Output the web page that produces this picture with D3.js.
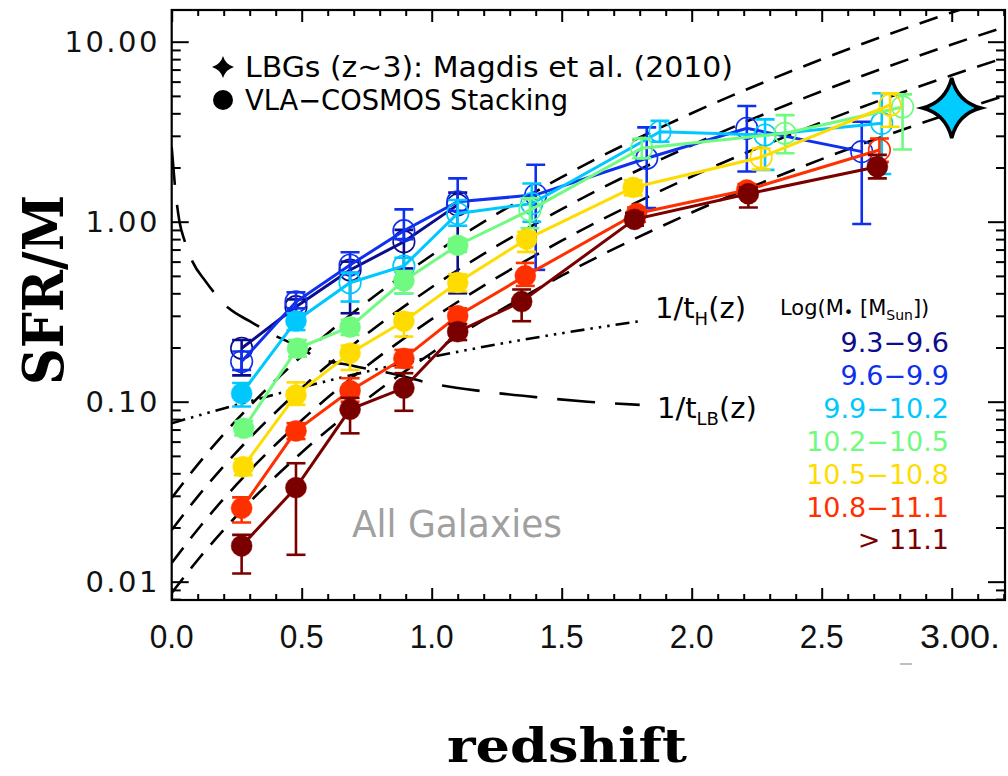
<!DOCTYPE html>
<html><head><meta charset="utf-8">
<script src="https://cdn.jsdelivr.net/npm/d3@7"></script>
<style>body{margin:0;background:#fff}</style>
</head><body>
<svg id="c" width="1008" height="776"></svg>
<script>
// ---------------- data ----------------
const massBins = ["9.3\u22129.6","9.6\u22129.9","9.9\u221210.2","10.2\u221210.5","10.5\u221210.8","10.8\u221211.1","> 11.1"];
const binColors = ["#0c0c8c","#1030f0","#00c8ff","#70fa80","#ffdc00","#ff3000","#7a0000"];

const zNavy = [0.269, 0.478, 0.686, 0.893, 1.10];
const vNavy = [0.198, 0.337, 0.539, 0.774, 1.24];
const loNavy = [0.14, 0.30, 0.31, 0.55, 0.40];
const hiNavy = [0.22, 0.37, 0.60, 0.90, 1.45];

const zBlue = [0.269, 0.478, 0.686, 0.893, 1.10, 1.40, 1.827, 2.212, 2.654];
const vBlue = [0.167, 0.359, 0.574, 0.891, 1.29, 1.41, 2.25, 3.30, 2.45];
const loBlue = [0.15, 0.33, 0.52, 0.80, 1.15, 0.54, 1.19, 1.90, 0.97];
const hiBlue = [0.19, 0.405, 0.676, 1.17, 1.74, 2.07, 3.34, 4.39, 3.59];

const zCyan = [0.269, 0.478, 0.686, 0.893, 1.10, 1.385, 1.878, 2.282, 2.731];
const vCyan = [0.111, 0.281, 0.458, 0.567, 1.11, 1.26, 3.16, 3.03, 3.52];
const loCyan = [0.094, 0.25, 0.36, 0.40, 0.95, 1.0, 2.78, 1.94, 1.84];
const hiCyan = [0.127, 0.31, 0.52, 0.63, 1.32, 1.63, 3.64, 3.7, 5.17];

const zGreen = [0.277, 0.484, 0.686, 0.893, 1.10, 1.378, 1.808, 2.359, 2.811];
const vGreen = [0.0711, 0.198, 0.26, 0.47, 0.74, 1.16, 2.56, 3.10, 4.34];
const loGreen = [0.065, 0.178, 0.235, 0.40, 0.68, 0.92, 2.25, 2.4, 2.52];
const hiGreen = [0.078, 0.22, 0.285, 0.53, 0.80, 1.35, 2.9, 3.91, 5.1];

const zYellow = [0.275, 0.478, 0.686, 0.893, 1.10, 1.365, 1.775, 2.267, 2.763];
const vYellow = [0.0435, 0.109, 0.186, 0.28, 0.46, 0.80, 1.55, 2.28, 4.45];
const loYellow = [0.039, 0.096, 0.15, 0.23, 0.41, 0.68, 1.4, 1.95, 3.37];
const hiYellow = [0.048, 0.128, 0.205, 0.31, 0.51, 0.88, 1.7, 2.55, 5.17];

const zRed = [0.269, 0.478, 0.686, 0.893, 1.10, 1.36, 1.788, 2.212, 2.722];
const vRed = [0.0256, 0.0688, 0.115, 0.174, 0.30, 0.50, 1.11, 1.50, 2.50];
const loRed = [0.0213, 0.062, 0.10, 0.155, 0.27, 0.44, 1.0, 1.38, 2.15];
const hiRed = [0.0294, 0.076, 0.135, 0.194, 0.33, 0.59, 1.2, 1.62, 2.9];

const zDark = [0.269, 0.478, 0.686, 0.893, 1.10, 1.346, 1.78, 2.218, 2.714];
const vDark = [0.0158, 0.0333, 0.0907, 0.119, 0.245, 0.36, 1.03, 1.43, 2.02];
const loDark = [0.0111, 0.0141, 0.0667, 0.089, 0.22, 0.28, 0.95, 1.2, 1.74];
const hiDark = [0.0182, 0.0455, 0.105, 0.144, 0.27, 0.42, 1.12, 1.55, 2.35];

// number of leading filled markers per series (rest open)
const filledCount = [0, 0, 2, 5, 7, 8, 9];

// LBG point (Magdis et al. 2010)
const lbgZ = [3.0];
const lbgV = [4.28];

// dashed fit lines
const fitZ = [0, 0.1, 0.25, 0.5, 0.75, 1.0, 1.5, 2.0, 2.5, 3.0, 3.21];
const fit1 = [0.00866, 0.0132, 0.02325, 0.0522, 0.1032, 0.1865, 0.501, 1.124, 2.227, 4.022, 5.045];
const fit2 = [0.0127, 0.0195, 0.0347, 0.0788, 0.1576, 0.2873, 0.784, 1.782, 3.567, 6.508, 8.193];
const fit3 = [0.01938, 0.0297, 0.0526, 0.1192, 0.2375, 0.4322, 1.174, 2.658, 5.306, 9.652, 12.14];
const fit4 = [0.02917, 0.0447, 0.0792, 0.1794, 0.3577, 0.651, 1.768, 4.003, 7.99, 14.54, 18.27];

// 1/t_LB(z) and 1/t_H(z)
const tLBz = [0.0, 0.015, 0.03, 0.05, 0.08, 0.13, 0.22, 0.3, 0.4, 0.5, 0.55, 0.7, 0.85, 1.0, 1.2, 1.4, 1.6, 1.8];
const tLBv = [2.6, 1.45, 1.0, 0.78, 0.6, 0.467, 0.33, 0.28, 0.232, 0.198, 0.178, 0.158, 0.143, 0.126, 0.114, 0.106, 0.100, 0.096];
const tHz = [0, 0.25, 0.5, 0.75, 1.0, 1.25, 1.5, 1.8];
const tHv = [0.076, 0.096, 0.12, 0.147, 0.177, 0.208, 0.24, 0.28];

const xTickVals = [0, 0.5, 1.0, 1.5, 2.0, 2.5, 3.0];
const xTickLabels = ["0.0","0.5","1.0","1.5","2.0","2.5","3.00."];
const yTickVals = [0.01, 0.1, 1, 10];
const yTickLabels = ["0.01","0.10","1.00","10.00"];

// ---------------- drawing ----------------
const svg = d3.select("#c");
svg.append("rect").attr("width",1008).attr("height",776).attr("fill","#fff");

const L = 171.7, R = 1005, T = 10, B = 600;
const x = d3.scaleLinear().domain([0, 3.205]).range([L, R]);
const y = d3.scaleLog().domain([0.00791, 15.0]).range([B, T]);

svg.append("defs").append("clipPath").attr("id","pc")
  .append("rect").attr("x",L).attr("y",T).attr("width",R-L).attr("height",B-T);

const plot = svg.append("g").attr("clip-path","url(#pc)");
const line = d3.line().x(d=>x(d[0])).y(d=>y(d[1])).curve(d3.curveMonotoneX);

// model curves
[fit1, fit2, fit3, fit4].forEach(f=>{
  plot.append("path").attr("d", line(fitZ.map((z,i)=>[z,f[i]])))
    .attr("fill","none").attr("stroke","#000").attr("stroke-width",2.6)
    .attr("stroke-dasharray","19,12");
});
plot.append("path").attr("d", line(tLBz.map((z,i)=>[z,tLBv[i]])))
  .attr("fill","none").attr("stroke","#000").attr("stroke-width",2.6)
  .attr("stroke-dasharray","38,20");
plot.append("path").attr("d", line(tHz.map((z,i)=>[z,tHv[i]])))
  .attr("fill","none").attr("stroke","#000").attr("stroke-width",2.6)
  .attr("stroke-dasharray","14,6,2.5,6,2.5,6,2.5,6");

// data series
const seriesZ = [zNavy,zBlue,zCyan,zGreen,zYellow,zRed,zDark];
const seriesV = [vNavy,vBlue,vCyan,vGreen,vYellow,vRed,vDark];
const seriesLo = [loNavy,loBlue,loCyan,loGreen,loYellow,loRed,loDark];
const seriesHi = [hiNavy,hiBlue,hiCyan,hiGreen,hiYellow,hiRed,hiDark];

const straight = d3.line().x(d=>x(d.z)).y(d=>y(d.v));
seriesZ.forEach((zs, s)=>{
  const col = binColors[s];
  const pts = zs.map((z,i)=>({z, v:seriesV[s][i], lo:seriesLo[s][i], hi:seriesHi[s][i], filled: i < filledCount[s]}));
  const g = plot.append("g");
  g.append("path").attr("d", straight(pts)).attr("fill","none")
    .attr("stroke", col).attr("stroke-width", 3);
  const eb = g.selectAll(".eb").data(pts).enter().append("g");
  eb.append("line").attr("x1",d=>x(d.z)).attr("x2",d=>x(d.z))
    .attr("y1",d=>y(d.lo)).attr("y2",d=>y(d.hi)).attr("stroke",col).attr("stroke-width",2.6);
  eb.append("line").attr("x1",d=>x(d.z)-9.5).attr("x2",d=>x(d.z)+9.5)
    .attr("y1",d=>y(d.lo)).attr("y2",d=>y(d.lo)).attr("stroke",col).attr("stroke-width",2.6);
  eb.append("line").attr("x1",d=>x(d.z)-9.5).attr("x2",d=>x(d.z)+9.5)
    .attr("y1",d=>y(d.hi)).attr("y2",d=>y(d.hi)).attr("stroke",col).attr("stroke-width",2.6);
  g.selectAll(".pt").data(pts).enter().append("circle")
    .attr("cx",d=>x(d.z)).attr("cy",d=>y(d.v))
    .attr("r", d=>d.filled ? 10.5 : 10.8)
    .attr("fill", d=>d.filled ? col : "none")
    .attr("stroke", col).attr("stroke-width", d=>d.filled ? 0.5 : 1.6);
});

// star symbol
function starPath(cx, cy, rx, ry, c){
  return `M${cx},${cy-ry} Q${cx+c},${cy-c} ${cx+rx},${cy} Q${cx+c},${cy+c} ${cx},${cy+ry} Q${cx-c},${cy+c} ${cx-rx},${cy} Q${cx-c},${cy-c} ${cx},${cy-ry} Z`;
}
lbgZ.forEach((z,i)=>{
  plot.append("path").attr("d", starPath(x(z), y(lbgV[i]), 29, 30, 6))
    .attr("fill","#00ccff").attr("stroke","#000").attr("stroke-width",3.5).attr("stroke-linejoin","miter");
});

// axes ticks
const xMajor = d3.range(0, 3.21, 0.5);
const xMinor = d3.range(0, 3.21, 0.1).filter(v=>Math.abs(v*2-Math.round(v*2))>1e-6);
const axG = svg.append("g");
axG.append("g").attr("transform",`translate(0,${B})`).call(d3.axisBottom(x).tickValues(xMajor).tickSize(-12).tickFormat(""));
axG.append("g").attr("transform",`translate(0,${B})`).call(d3.axisBottom(x).tickValues(xMinor).tickSize(-6).tickFormat(""));
axG.append("g").attr("transform",`translate(0,${T})`).call(d3.axisTop(x).tickValues(xMajor).tickSize(-12).tickFormat(""));
axG.append("g").attr("transform",`translate(0,${T})`).call(d3.axisTop(x).tickValues(xMinor).tickSize(-6).tickFormat(""));
const yMinor = [];
[0.001,0.01,0.1,1].forEach(dec=>{ for(let k=2;k<=9;k++){ const v=k*dec; if(v>=0.00791 && v<=15) yMinor.push(v);} });
axG.append("g").attr("transform",`translate(${L},0)`).call(d3.axisLeft(y).tickValues(yTickVals).tickSize(-17).tickFormat(""));
axG.append("g").attr("transform",`translate(${L},0)`).call(d3.axisLeft(y).tickValues(yMinor).tickSize(-9).tickFormat(""));
axG.append("g").attr("transform",`translate(${R},0)`).call(d3.axisRight(y).tickValues(yTickVals).tickSize(-17).tickFormat(""));
axG.append("g").attr("transform",`translate(${R},0)`).call(d3.axisRight(y).tickValues(yMinor).tickSize(-9).tickFormat(""));
axG.selectAll(".domain").remove();
axG.selectAll(".tick line").attr("stroke","#000").attr("stroke-width",2);

// frame
svg.append("rect").attr("x",L).attr("y",T).attr("width",R-L).attr("height",B-T)
  .attr("fill","none").attr("stroke","#000").attr("stroke-width",2.2);

// tick labels
xTickVals.forEach((v,i)=>{
  const last = i===xTickVals.length-1;
  svg.append("text").attr("x", last ? 920 : x(v)).attr("y",648)
    .attr("text-anchor", last ? "start" : "middle")
    .attr("font-family","'Liberation Sans',sans-serif")
    .attr("font-size",34).attr("fill","#111")
    .attr("textLength", last ? 80 : 44).attr("lengthAdjust","spacingAndGlyphs")
    .text(xTickLabels[i]);
});
yTickVals.forEach((v,i)=>{
  svg.append("text").attr("x",160).attr("y",y(v)+10.5).attr("text-anchor","end")
    .attr("font-family","'DejaVu Sans',sans-serif").attr("font-size",29)
    .attr("letter-spacing","2.5").attr("fill","#111").text(yTickLabels[i]);
});
svg.append("line").attr("x1",900).attr("x2",912).attr("y1",664).attr("y2",664)
  .attr("stroke","#aaa").attr("stroke-width",1.5);

// axis titles
svg.append("text").attr("x",567).attr("y",762).attr("text-anchor","middle")
  .attr("font-family","'DejaVu Serif',serif").attr("font-weight","bold").attr("font-size",46)
  .attr("textLength",240).attr("lengthAdjust","spacingAndGlyphs").attr("fill","#000").text("redshift");
svg.append("text").attr("transform","translate(63,290) rotate(-90)").attr("text-anchor","middle")
  .attr("font-family","'DejaVu Serif',serif").attr("font-weight","bold").attr("font-size",56)
  .attr("textLength",190).attr("lengthAdjust","spacingAndGlyphs").attr("fill","#000").text("SFR/M");

// top-left legend
const sans = "'DejaVu Sans',sans-serif";
svg.append("path").attr("d", starPath(223, 67, 11, 11, 2.5)).attr("fill","#000");
svg.append("text").attr("x",245).attr("y",77).attr("font-family",sans).attr("font-size",28)
  .attr("textLength",488).attr("lengthAdjust","spacingAndGlyphs").text("LBGs (z~3): Magdis et al. (2010)");
svg.append("circle").attr("cx",223).attr("cy",100).attr("r",10).attr("fill","#000");
svg.append("text").attr("x",245).attr("y",110).attr("font-family",sans).attr("font-size",28)
  .attr("textLength",323).attr("lengthAdjust","spacingAndGlyphs").text("VLA\u2212COSMOS Stacking");

// All Galaxies
svg.append("text").attr("x",352).attr("y",537).attr("font-family",sans).attr("font-size",37)
  .attr("textLength",210).attr("lengthAdjust","spacingAndGlyphs").attr("fill","#a0a0a0").text("All Galaxies");

// curve labels
const tH = svg.append("text").attr("x",655).attr("y",318).attr("font-family",sans).attr("font-size",29);
tH.append("tspan").text("1/t");
tH.append("tspan").attr("font-size",18).attr("dy",7).text("H");
tH.append("tspan").attr("dy",-7).text("(z)");
const tLB = svg.append("text").attr("x",657).attr("y",418).attr("font-family",sans).attr("font-size",29);
tLB.append("tspan").text("1/t");
tLB.append("tspan").attr("font-size",18).attr("dy",7).text("LB");
tLB.append("tspan").attr("dy",-7).text("(z)");

// mass legend
const ml = svg.append("text").attr("x",780).attr("y",315).attr("font-family",sans).attr("font-size",21);
ml.append("tspan").text("Log(M");
ml.append("tspan").attr("font-size",16).attr("dy",3).text("\u2022");
ml.append("tspan").attr("dy",-3).text(" [M");
ml.append("tspan").attr("font-size",14).attr("dy",5).text("Sun");
ml.append("tspan").attr("dy",-5).text("])");
massBins.forEach((m,i)=>{
  svg.append("text").attr("x",949).attr("y",352 + i*32.9).attr("text-anchor","end")
    .attr("font-family",sans).attr("font-size",27).attr("fill",binColors[i]).text(m);
});
</script>
</body></html>
